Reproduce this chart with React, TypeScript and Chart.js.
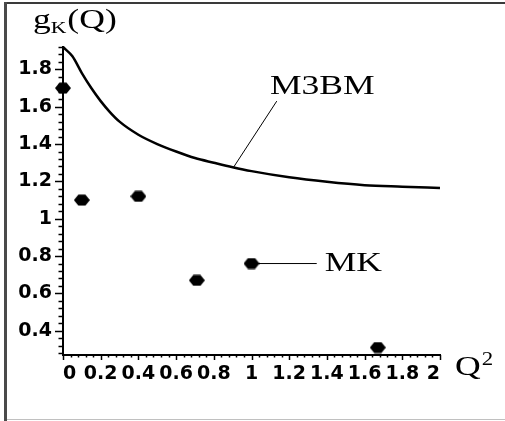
import React, { useEffect, useRef } from "react";
import { Chart, registerables } from "chart.js";

Chart.register(...registerables);

// ---- data ----
const curveQ2 = [0, 0.05, 0.1, 0.15, 0.2, 0.25, 0.3, 0.4, 0.5, 0.6, 0.7, 0.8, 0.9, 1.0, 1.2, 1.4, 1.6, 1.8, 2.0];
const curveG = [1.92, 1.87, 1.78, 1.7, 1.63, 1.57, 1.52, 1.45, 1.4, 1.36, 1.325, 1.3, 1.276, 1.255, 1.222, 1.198, 1.18, 1.172, 1.165];

const mkQ2 = [0, 0.1, 0.4, 0.71, 1.0, 1.67];
const mkG = [1.7, 1.1, 1.12, 0.67, 0.76, 0.31];

const xTickValues = [0, 0.2, 0.4, 0.6, 0.8, 1, 1.2, 1.4, 1.6, 1.8, 2];
const xTickLabels = ["0", "0.2", "0.4", "0.6", "0.8", "1", "1.2", "1.4", "1.6", "1.8", "2"];
const yTickValues = [0.4, 0.6, 0.8, 1, 1.2, 1.4, 1.6, 1.8];
const yTickLabels = ["0.4", "0.6", "0.8", "1", "1.2", "1.4", "1.6", "1.8"];

const xRange = [0, 2];
const yRange = [0.27, 1.92];
const minorStep = 0.04;

const m3bmLeader = [[0.905, 1.276], [1.134, 1.63]];
const m3bmLabelAt = [1.098, 1.666];
const mkLeader = [[1.0, 0.76], [1.346, 0.76]];
const mkLabelAt = [1.388, 0.718];

const curveName = "M3BM";
const pointsName = "MK";

const SERIF = "'Liberation Serif', 'Times New Roman', serif";
const TICKFONT = "'DejaVu Sans', sans-serif";
const STRETCH = 1.27;

function makeMarker(): HTMLCanvasElement {
  const c = document.createElement("canvas");
  c.width = 16;
  c.height = 12;
  const g = c.getContext("2d")!;
  g.fillStyle = "#000";
  g.beginPath();
  g.moveTo(0, 6);
  g.lineTo(4.5, 0.5);
  g.lineTo(11.5, 0.5);
  g.lineTo(16, 6);
  g.lineTo(11.5, 11.5);
  g.lineTo(4.5, 11.5);
  g.closePath();
  g.fill();
  return c;
}

function stretchedText(ctx: CanvasRenderingContext2D, text: string, x: number, y: number, size: number) {
  ctx.save();
  ctx.translate(x, y);
  ctx.scale(STRETCH, 1);
  ctx.font = `${size}px ${SERIF}`;
  ctx.fillStyle = "#000";
  ctx.textAlign = "left";
  ctx.textBaseline = "alphabetic";
  ctx.fillText(text, 0, 0);
  ctx.restore();
  ctx.save();
  ctx.font = `${size}px ${SERIF}`;
  const w = ctx.measureText(text).width * STRETCH;
  ctx.restore();
  return w;
}

const framePlugin = {
  id: "frame",
  beforeDraw(chart: any) {
    const ctx = chart.ctx as CanvasRenderingContext2D;
    ctx.save();
    ctx.fillStyle = "#fff";
    ctx.fillRect(0, 0, chart.width, chart.height);
    ctx.fillStyle = "#3a3a3a";
    ctx.fillRect(5, 2, chart.width - 5, 2);
    ctx.fillStyle = "#4a4a4a";
    ctx.fillRect(4, 2, 3, chart.height - 2);
    ctx.fillStyle = "#c0c0c0";
    ctx.fillRect(7, chart.height - 2, chart.width - 7, 1);
    ctx.restore();
  },
};

const ticksPlugin = {
  id: "minorTicks",
  afterDraw(chart: any) {
    const ctx = chart.ctx as CanvasRenderingContext2D;
    const xs = chart.scales.x;
    const ys = chart.scales.y;
    const area = chart.chartArea;
    ctx.save();
    ctx.strokeStyle = "#000";
    ctx.lineWidth = 1.5;
    const kx0 = Math.ceil(xRange[0] / minorStep - 1e-9);
    const kx1 = Math.floor(xRange[1] / minorStep + 1e-9);
    for (let k = kx0; k <= kx1; k++) {
      const px = Math.round(xs.getPixelForValue(k * minorStep)) + 0.5;
      const len = k % 5 === 0 ? 5 : 2.5;
      ctx.beginPath();
      ctx.moveTo(px, area.bottom);
      ctx.lineTo(px, area.bottom + len);
      ctx.stroke();
    }
    const ky0 = Math.ceil(yRange[0] / minorStep - 1e-9);
    const ky1 = Math.floor(yRange[1] / minorStep + 1e-9);
    for (let k = ky0; k <= ky1; k++) {
      const py = Math.round(ys.getPixelForValue(k * minorStep)) + 0.5;
      const len = k % 5 === 0 ? 8 : 4.5;
      ctx.beginPath();
      ctx.moveTo(area.left, py);
      ctx.lineTo(area.left - len, py);
      ctx.stroke();
    }
    ctx.restore();
  },
};

const annotationPlugin = {
  id: "annotations",
  afterDraw(chart: any) {
    const ctx = chart.ctx as CanvasRenderingContext2D;
    const xs = chart.scales.x;
    const ys = chart.scales.y;
    const area = chart.chartArea;
    const P = (p: number[]) => [xs.getPixelForValue(p[0]), ys.getPixelForValue(p[1])];
    ctx.save();
    ctx.strokeStyle = "#000";
    ctx.lineWidth = 1;
    for (const seg of [m3bmLeader, mkLeader]) {
      const a = P(seg[0]);
      const b = P(seg[1]);
      ctx.beginPath();
      ctx.moveTo(a[0], a[1]);
      ctx.lineTo(b[0], b[1]);
      ctx.stroke();
    }
    ctx.restore();

    const m = P(m3bmLabelAt);
    stretchedText(ctx, curveName, m[0], m[1], 28);
    const k = P(mkLabelAt);
    stretchedText(ctx, pointsName, k[0], k[1], 28);

    let x = area.left - 30;
    const base = area.top - 19;
    x += stretchedText(ctx, "g", x, base, 28);
    x += stretchedText(ctx, "K", x, base + 5, 17);
    stretchedText(ctx, "(Q)", x + 1, base, 28);

    const qx = area.right + 15;
    const qb = area.bottom + 20;
    const qw = stretchedText(ctx, "Q", qx, qb, 28);
    stretchedText(ctx, "2", qx + qw + 1, qb - 10, 18);
  },
};

export default function App() {
  const ref = useRef<HTMLCanvasElement | null>(null);

  useEffect(() => {
    if (!ref.current) return;
    const marker = makeMarker();
    const chart = new Chart(ref.current, {
      type: "scatter",
      data: {
        datasets: [
          {
            label: curveName,
            data: curveQ2.map((q, i) => ({ x: q, y: curveG[i] })),
            showLine: true,
            borderColor: "#000",
            borderWidth: 2.5,
            pointRadius: 0,
            cubicInterpolationMode: "monotone",
            clip: false,
          } as any,
          {
            label: pointsName,
            data: mkQ2.map((q, i) => ({ x: q, y: mkG[i] })),
            showLine: false,
            pointStyle: marker as any,
            pointRadius: 7,
            backgroundColor: "#000",
            borderColor: "#000",
            clip: false,
          } as any,
        ],
      },
      options: {
        animation: false,
        responsive: false,
        devicePixelRatio: 1,
        layout: { padding: { left: 0, top: 47, right: 65, bottom: 36 } },
        plugins: {
          legend: { display: false },
          tooltip: { enabled: false },
        },
        scales: {
          x: {
            type: "linear",
            min: xRange[0],
            max: xRange[1],
            afterFit: (s: any) => {
              s.height = 30;
            },
            afterBuildTicks: (s: any) => {
              s.ticks = xTickValues.map((v) => ({ value: v }));
            },
            ticks: {
              autoSkip: false,
              maxRotation: 0,
              minRotation: 0,
              align: "inner",
              padding: 4,
              color: "#000",
              font: { family: TICKFONT, size: 19, weight: "bold" },
              callback: (v: any) => {
                const i = xTickValues.findIndex((t) => Math.abs(t - Number(v)) < 1e-6);
                return i >= 0 ? xTickLabels[i] : "";
              },
            },
            grid: {
              display: true,
              drawOnChartArea: false,
              drawTicks: true,
              tickLength: 4,
              tickColor: "rgba(0,0,0,0)",
              color: "rgba(0,0,0,0)",
            },
            border: { display: true, color: "#000", width: 2 },
          },
          y: {
            type: "linear",
            min: yRange[0],
            max: yRange[1],
            afterFit: (s: any) => {
              s.width = 63;
            },
            afterBuildTicks: (s: any) => {
              s.ticks = yTickValues.map((v) => ({ value: v }));
            },
            ticks: {
              autoSkip: false,
              padding: 3,
              color: "#000",
              font: { family: TICKFONT, size: 19, weight: "bold" },
              callback: (v: any) => {
                const i = yTickValues.findIndex((t) => Math.abs(t - Number(v)) < 1e-6);
                return i >= 0 ? yTickLabels[i] : "";
              },
            },
            grid: {
              display: true,
              drawOnChartArea: false,
              drawTicks: true,
              tickLength: 8,
              tickColor: "rgba(0,0,0,0)",
              color: "rgba(0,0,0,0)",
            },
            border: { display: true, color: "#000", width: 2 },
          },
        },
      },
      plugins: [framePlugin, ticksPlugin, annotationPlugin],
    });
    return () => chart.destroy();
  }, []);

  return (
    <div style={{ position: "fixed", left: 0, top: 0, width: 505, height: 421, background: "#fff" }}>
      <canvas ref={ref} width={505} height={421} style={{ display: "block", width: 505, height: 421 }} />
    </div>
  );
}
